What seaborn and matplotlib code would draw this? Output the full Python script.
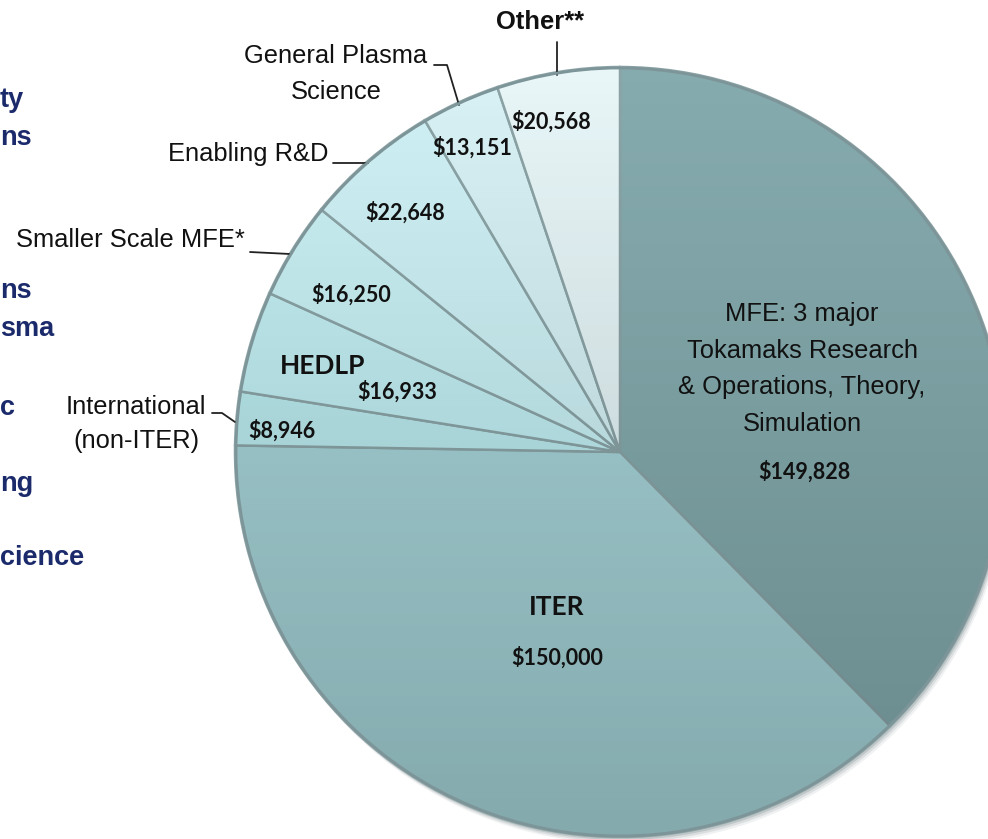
import matplotlib
matplotlib.use("Agg")
import numpy as np
import matplotlib.pyplot as plt
import seaborn as sns
from matplotlib.patches import Circle

# ── Data (clockwise from 12 o'clock, $K) ──────────────────────────────────────
categories = ["MFE", "ITER", "International", "HEDLP", "Smaller Scale MFE",
              "Enabling R&D", "General Plasma Science", "Other"]
budget_k = [149828, 150000, 8946, 16933, 16250, 22648, 13151, 20568]
slice_colors = ["#86abae", "#a9d5d9", "#bdecf0", "#c4f0f4", "#cbf2f6",
                "#d0f2f6", "#d8f2f5", "#e8f6f8"]

# value label positions (px, from top-left of the slide)
value_pos = [(804, 472), (557, 658), (282, 431), (397, 392), (351, 295),
             (405, 213), (472, 148), (551, 122)]

# cut-off navy text at the left edge of the slide
left_frag = ["ty", "ns", "ns", "sma", "c", "ng", "cience"]
left_frag_y = [100, 138, 291, 329, 408, 484, 558]

W, H = 988, 839
LABEL_FONT = ["Liberation Sans", "DejaVu Sans"]
VALUE_FONT = ["Lato", "DejaVu Sans"]


def py(y):
    return H - y


sns.set_theme(style="white")
fig = plt.figure(figsize=(W / 100, H / 100), dpi=100)
ax = fig.add_axes([0, 0, 1, 1])

cx, cy, rad = 620, py(452), 385

# soft drop shadow behind the pie
for off, a in [(7, 0.08), (5, 0.12), (3, 0.18)]:
    ax.add_patch(Circle((cx + off * 0.6, cy - off), rad, color="#40595b",
                        alpha=a, lw=0, zorder=0))

wedges, _ = ax.pie(budget_k, colors=slice_colors, startangle=90,
                   counterclock=False, center=(cx, cy), radius=rad,
                   wedgeprops=dict(edgecolor="#8da4a7", linewidth=1.8))
for w in wedges:
    w.set_zorder(2)

# vertical shading: darker towards the bottom, like the slide's 3-D look
shade = np.zeros((200, 1, 4))
shade[..., :3] = (0.10, 0.18, 0.19)
shade[:, 0, 3] = np.linspace(0.0, 0.26, 200)
im = ax.imshow(shade, extent=(cx - rad, cx + rad, cy - rad, cy + rad),
               origin="upper", aspect="auto", zorder=2.5)
im.set_clip_path(Circle((cx, cy), rad, transform=ax.transData))

ax.add_patch(Circle((cx, cy), rad - 1, fill=False, ec="#7d9598", lw=2.0,
                    zorder=3))

ax.set_xlim(0, W)
ax.set_ylim(0, H)
ax.axis("off")

# value labels
for v, (x, y) in zip(budget_k, value_pos):
    ax.text(x, py(y), f"${v:,}", ha="center", va="center", fontsize=15.5,
            fontweight="bold", family=VALUE_FONT, color="#111111", zorder=5)

ax.text(557, py(607), "ITER", ha="center", va="center", fontsize=19,
        fontweight="bold", family=VALUE_FONT, color="#111111", zorder=5)
ax.text(323, py(366), "HEDLP", ha="center", va="center", fontsize=19,
        fontweight="bold", family=VALUE_FONT, color="#111111", zorder=5)

ax.text(802, py(369), "MFE: 3 major\nTokamaks Research\n& Operations, Theory,\nSimulation",
        ha="center", va="center", fontsize=18.4, family=LABEL_FONT,
        color="#111111", linespacing=1.65, zorder=5)

# outside labels + leader lines
txt_kw = dict(fontsize=18.4, family=LABEL_FONT, color="#111111")
ax.text(540, py(22), "Other**", ha="center", va="center",
        fontweight="bold", **txt_kw)
ax.plot([557, 557], [py(42), py(75)], color="#222222", lw=1.3)

ax.text(336, py(74), "General Plasma\nScience", ha="center", va="center",
        linespacing=1.65, **txt_kw)
ax.plot([434, 447, 459], [py(65), py(65), py(105)], color="#222222", lw=1.3)

ax.text(328, py(154), "Enabling R&D", ha="right", va="center", **txt_kw)
ax.plot([333, 368], [py(163), py(163)], color="#222222", lw=1.3)

ax.text(245, py(240), "Smaller Scale MFE*", ha="right", va="center", **txt_kw)
ax.plot([250, 290], [py(252), py(254)], color="#222222", lw=1.3)

ax.text(136, py(424), "International\n(non-ITER)", ha="center", va="center",
        linespacing=1.55, **txt_kw)
ax.plot([212, 222, 235], [py(413), py(413), py(422)], color="#222222", lw=1.3)

for t, y in zip(left_frag, left_frag_y):
    ax.text(0, py(y), t, ha="left", va="center", fontsize=19.5,
            fontweight="bold", family=LABEL_FONT, color="#1b2a6b")

fig.savefig("out.png", dpi=100, facecolor="white")
